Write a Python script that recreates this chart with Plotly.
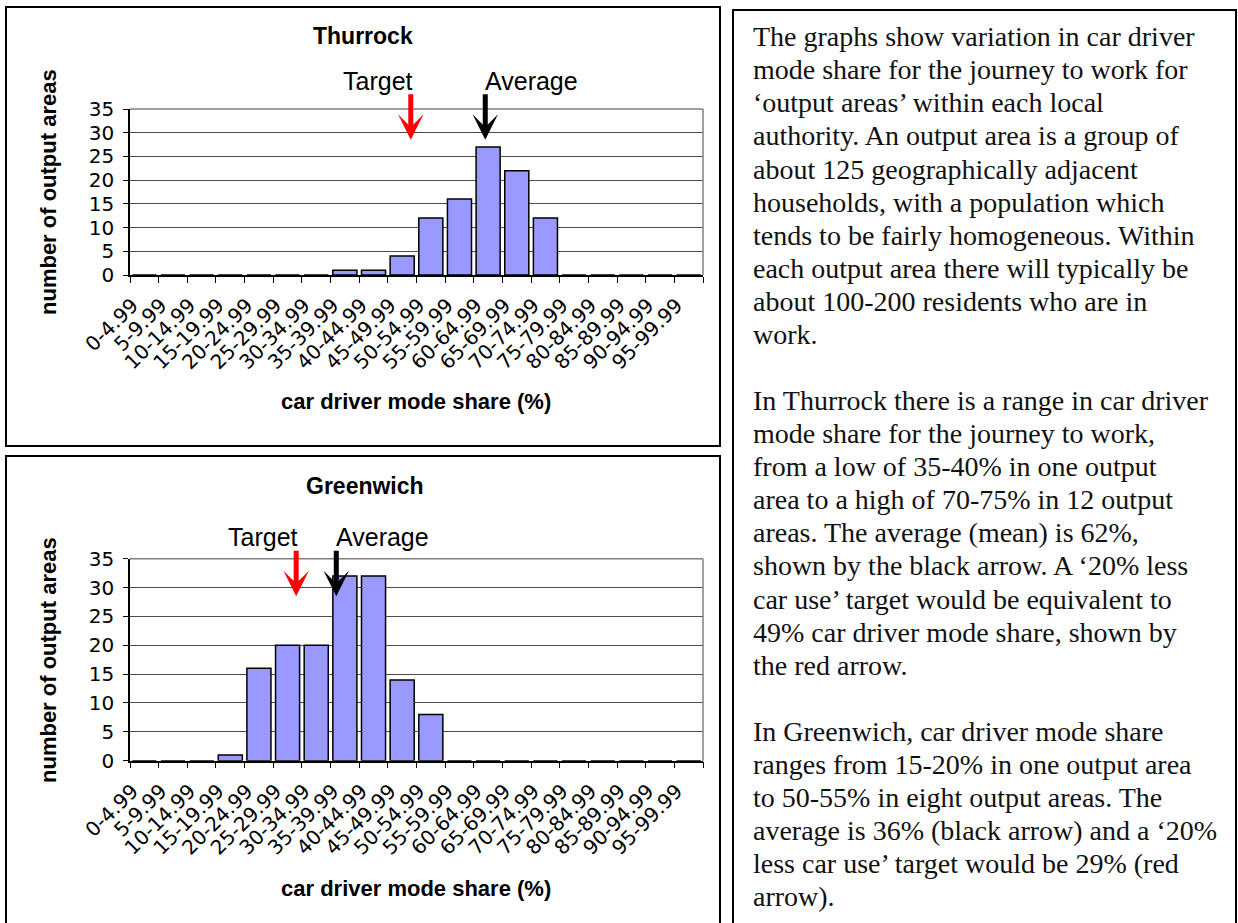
import plotly.graph_objects as go

# ---------------- data ----------------
CATEGORIES = ["0-4.99", "5-9.99", "10-14.99", "15-19.99", "20-24.99", "25-29.99",
              "30-34.99", "35-39.99", "40-44.99", "45-49.99", "50-54.99", "55-59.99",
              "60-64.99", "65-69.99", "70-74.99", "75-79.99", "80-84.99", "85-89.99",
              "90-94.99", "95-99.99"]
THURROCK_COUNTS = [0, 0, 0, 0, 0, 0, 0, 1, 1, 4, 12, 16, 27, 22, 12, 0, 0, 0, 0, 0]
GREENWICH_COUNTS = [0, 0, 0, 1, 16, 20, 20, 32, 32, 14, 8, 0, 0, 0, 0, 0, 0, 0, 0, 0]
THURROCK_TARGET = 49
THURROCK_AVERAGE = 62
GREENWICH_TARGET = 29
GREENWICH_AVERAGE = 36
BIN_WIDTH = 5
Y_TICKS = [0, 5, 10, 15, 20, 25, 30, 35]

TEXT_LINES = [
    "The graphs show variation in car driver",
    "mode share for the journey to work for",
    "\u2018output areas\u2019 within each local",
    "authority. An output area is a group of",
    "about 125 geographically adjacent",
    "households, with a population which",
    "tends to be fairly homogeneous. Within",
    "each output area there will typically be",
    "about 100-200 residents who are in",
    "work.",
    "",
    "In Thurrock there is a range in car driver",
    "mode share for the journey to work,",
    "from a low of 35-40% in one output",
    "area to a high of 70-75% in 12 output",
    "areas. The average (mean) is 62%,",
    "shown by the black arrow. A \u201820% less",
    "car use\u2019 target would be equivalent to",
    "49% car driver mode share, shown by",
    "the red arrow.",
    "",
    "In Greenwich, car driver mode share",
    "ranges from 15-20% in one output area",
    "to 50-55% in eight output areas. The",
    "average is 36% (black arrow) and a \u201820%",
    "less car use\u2019 target would be 29% (red",
    "arrow).",
]

# ---------------- layout helpers ----------------
W, H = 1238, 923


def px(x):
    return x / W


def py(y):
    return 1 - y / H


SANS = "Liberation Sans, Arial, sans-serif"
XTICKFONT = dict(family="DejaVu Sans, sans-serif", size=20, color="black")
YTICKFONT = dict(family="DejaVu Sans, sans-serif", size=20, color="black")
BAR_COLOR = "#9999FF"

fig = go.Figure()

fig.add_trace(go.Bar(x=CATEGORIES, y=THURROCK_COUNTS, xaxis="x", yaxis="y",
                     marker=dict(color=BAR_COLOR, line=dict(color="black", width=1.5)),
                     showlegend=False))
fig.add_trace(go.Bar(x=CATEGORIES, y=GREENWICH_COUNTS, xaxis="x2", yaxis="y2",
                     marker=dict(color=BAR_COLOR, line=dict(color="black", width=1.5)),
                     showlegend=False))

xaxis_common = dict(type="category", range=[-0.5, len(CATEGORIES) - 0.5],
                    tickson="boundaries", ticks="outside", ticklen=6, tickwidth=1.2,
                    tickcolor="black", showline=True, linecolor="black", linewidth=1.5,
                    showgrid=False, tickangle=-45, tickfont=XTICKFONT, fixedrange=True,
                    ticklabelshift=-12, ticklabelstandoff=9, automargin=False)
yaxis_common = dict(range=[0, 35], tickvals=Y_TICKS, ticks="outside", ticklen=5,
                    tickwidth=1.2, tickcolor="black", showline=True, linecolor="black",
                    linewidth=1.5, showgrid=True, gridcolor="#4d4d4d", gridwidth=1,
                    zeroline=False, tickfont=YTICKFONT, ticklabelstandoff=5,
                    fixedrange=True, automargin=False)

plot_x = [px(130), px(703)]
top_y = [py(275), py(109)]
bot_y = [py(760.7), py(558.7)]

fig.update_layout(
    width=W, height=H, margin=dict(l=0, r=0, t=0, b=0, autoexpand=False),
    paper_bgcolor="white", plot_bgcolor="white",
    bargap=0.16,
    xaxis=dict(domain=plot_x, anchor="y", **xaxis_common),
    yaxis=dict(domain=top_y, anchor="x", **yaxis_common),
    xaxis2=dict(domain=plot_x, anchor="y2", **xaxis_common),
    yaxis2=dict(domain=bot_y, anchor="x2", **yaxis_common),
)

# panel borders
for (x0, y0, x1, y1) in [(6, 7, 720, 446), (6, 456, 720, 935), (733, 10, 1236, 935)]:
    fig.add_shape(type="rect", xref="paper", yref="paper",
                  x0=px(x0), x1=px(x1), y0=py(y0), y1=py(y1),
                  line=dict(color="black", width=2), fillcolor="rgba(0,0,0,0)")

# plot-area top/right borders (grey)
for xr, yr in [("x", "y"), ("x2", "y2")]:
    fig.add_shape(type="line", xref=f"{xr} domain", yref=f"{yr} domain",
                  x0=0, x1=1, y0=1, y1=1, line=dict(color="#808080", width=1.5))
    fig.add_shape(type="line", xref=f"{xr} domain", yref=f"{yr} domain",
                  x0=1, x1=1, y0=0, y1=1, line=dict(color="#808080", width=1.5))

# chart titles and axis titles
for title, tx, ty, xt_y, yt_y in [("Thurrock", 363, 36, 402, 192),
                                  ("Greenwich", 365, 486, 888, 660)]:
    fig.add_annotation(text=title, xref="paper", yref="paper", x=px(tx), y=py(ty),
                       showarrow=False, xanchor="center", yanchor="middle",
                       font=dict(family=SANS, size=23, color="black", weight="bold"))
    fig.add_annotation(text="car driver mode share (%)", xref="paper", yref="paper",
                       x=px(416), y=py(xt_y), showarrow=False, xanchor="center",
                       yanchor="middle",
                       font=dict(family=SANS, size=22, color="black", weight="bold"))
    fig.add_annotation(text="number of output areas", xref="paper", yref="paper",
                       x=px(48), y=py(yt_y), showarrow=False, textangle=-90,
                       xanchor="center", yanchor="middle",
                       font=dict(family=SANS, size=22, color="black", weight="bold"))

# arrows with labels
ARROW_TIP = 28.5
for xr, yr, target, average in [("x", "y", THURROCK_TARGET, THURROCK_AVERAGE),
                                ("x2", "y2", GREENWICH_TARGET, GREENWICH_AVERAGE)]:
    for value, color, label, anchor, shift in [(target, "#FF0000", "Target", "right", 4),
                                               (average, "black", "Average", "left", -2)]:
        xpos = value / BIN_WIDTH - 0.5
        fig.add_annotation(x=xpos, y=ARROW_TIP, xref=xr, yref=yr, text="",
                           showarrow=True, ax=0, ay=-47, axref="pixel", ayref="pixel",
                           arrowhead=3, arrowsize=0.85, arrowwidth=5, arrowcolor=color,
                           standoff=0)
        fig.add_annotation(x=xpos, y=ARROW_TIP, xref=xr, yref=yr, text=label,
                           showarrow=False, xanchor=anchor, yanchor="middle",
                           xshift=shift, yshift=59,
                           font=dict(family=SANS, size=25, color="black"))

# explanatory text
for k, line in enumerate(TEXT_LINES):
    if not line:
        continue
    fig.add_annotation(text=line, xref="paper", yref="paper", x=px(751),
                       y=py(36.7 + 33.08 * k), showarrow=False, xanchor="left",
                       yanchor="middle",
                       font=dict(family="Liberation Serif, Times New Roman, serif",
                                 size=28, color="#111111"))

fig.write_html("out.html")
